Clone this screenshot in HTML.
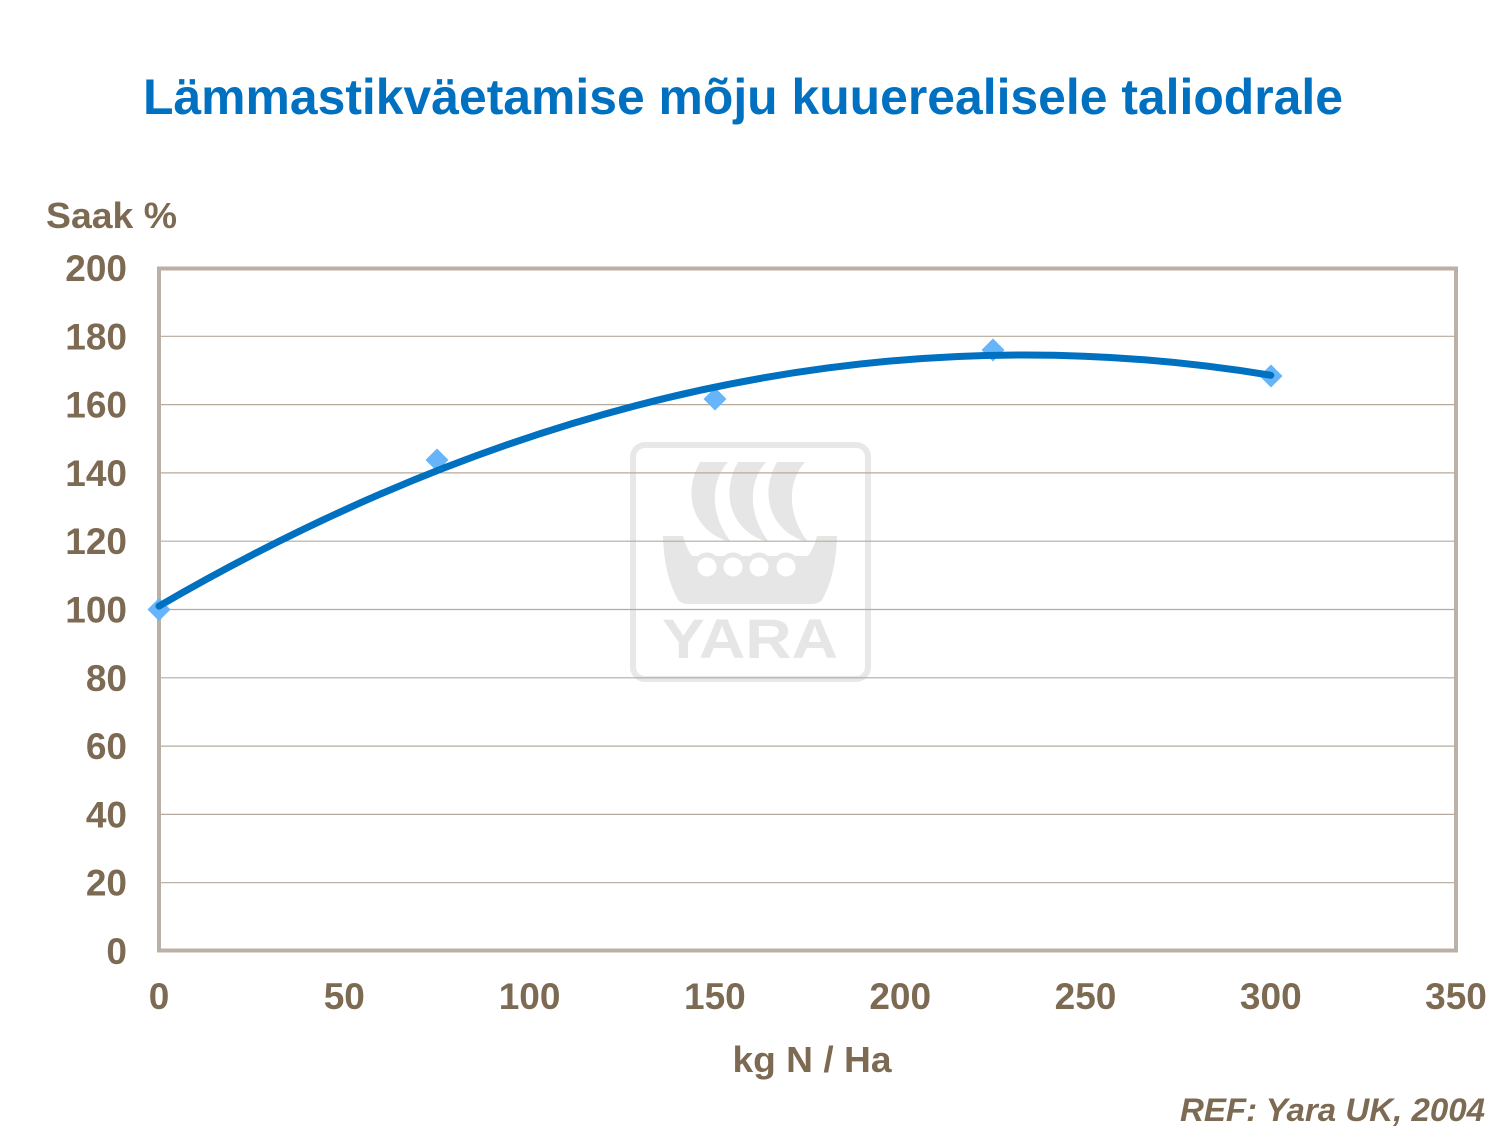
<!DOCTYPE html>
<html>
<head>
<meta charset="utf-8">
<style>
html,body{margin:0;padding:0;background:#fff;}
svg{display:block;}
text{font-family:"Liberation Sans",Arial,sans-serif;font-weight:bold;}
</style>
</head>
<body>
<svg width="1501" height="1126" viewBox="0 0 1501 1126" xmlns="http://www.w3.org/2000/svg">
<rect x="0" y="0" width="1501" height="1126" fill="#ffffff"/>

<!-- Title -->
<text x="743" y="114" font-size="50" fill="#0070c0" text-anchor="middle" textLength="1200" lengthAdjust="spacingAndGlyphs">Lämmastikväetamise mõju kuuerealisele taliodrale</text>

<!-- Y axis title -->
<text x="46" y="228" font-size="36" fill="#7d6a53" textLength="131" lengthAdjust="spacingAndGlyphs">Saak %</text>

<!-- Plot background -->
<rect x="159" y="268" width="1297" height="683" fill="#ffffff"/>

<!-- Watermark -->
<g fill="#e6e6e6">
  <rect x="633" y="445" width="235" height="234" rx="12" ry="12" fill="none" stroke="#e8e8e8" stroke-width="6"/>
  <path d="M700,462 L728,462 C710,482 710,515 731,542 C697,534 680,498 700,462 Z"/>
  <path d="M738,462 L766,462 C748,482 748,515 769,542 C735,534 718,498 738,462 Z"/>
  <path d="M777,462 L805,462 C787,482 787,515 808,542 C774,534 757,498 777,462 Z"/>
  <path d="M663,536 L683,536 Q686,548 692,556 L808,556 Q814,548 817,536 L837,536 Q836,575 822,600 Q818,604 812,604 L688,604 Q682,604 678,600 Q664,575 663,536 Z"/>
  <circle cx="707" cy="566" r="13.5"/>
  <circle cx="733" cy="566" r="13.5"/>
  <circle cx="759" cy="566" r="13.5"/>
  <circle cx="786" cy="566" r="13.5"/>
  <circle cx="707" cy="567" r="9.5" fill="#ffffff"/>
  <circle cx="733" cy="567" r="9.5" fill="#ffffff"/>
  <circle cx="759" cy="567" r="9.5" fill="#ffffff"/>
  <circle cx="786" cy="567" r="9.5" fill="#ffffff"/>
  <text x="662" y="658" font-size="56" fill="#e6e6e6" textLength="176" lengthAdjust="spacingAndGlyphs">YARA</text>
</g>

<!-- Gridlines -->
<g stroke="#b5aa9d" stroke-width="1.2">
  <line x1="159" y1="336.3" x2="1456" y2="336.3"/>
  <line x1="159" y1="404.6" x2="1456" y2="404.6"/>
  <line x1="159" y1="472.9" x2="1456" y2="472.9"/>
  <line x1="159" y1="541.2" x2="1456" y2="541.2"/>
  <line x1="159" y1="609.5" x2="1456" y2="609.5"/>
  <line x1="159" y1="677.8" x2="1456" y2="677.8"/>
  <line x1="159" y1="746.1" x2="1456" y2="746.1"/>
  <line x1="159" y1="814.4" x2="1456" y2="814.4"/>
  <line x1="159" y1="882.7" x2="1456" y2="882.7"/>
</g>

<!-- Frame -->
<rect x="159" y="268.5" width="1297" height="682" fill="none" stroke="#bbb0a4" stroke-width="4"/>

<!-- Y tick labels -->
<g font-size="37" fill="#7d6a53" text-anchor="end">
  <text x="127" y="281">200</text>
  <text x="127" y="349.3">180</text>
  <text x="127" y="417.6">160</text>
  <text x="127" y="485.9">140</text>
  <text x="127" y="554.2">120</text>
  <text x="127" y="622.5">100</text>
  <text x="127" y="690.8">80</text>
  <text x="127" y="759.1">60</text>
  <text x="127" y="827.4">40</text>
  <text x="127" y="895.7">20</text>
  <text x="127" y="964">0</text>
</g>

<!-- X tick labels -->
<g font-size="37" fill="#7d6a53" text-anchor="middle">
  <text x="159" y="1009">0</text>
  <text x="344.3" y="1009">50</text>
  <text x="529.6" y="1009">100</text>
  <text x="714.9" y="1009">150</text>
  <text x="900.2" y="1009">200</text>
  <text x="1085.5" y="1009">250</text>
  <text x="1270.8" y="1009">300</text>
  <text x="1456" y="1009">350</text>
</g>

<!-- X axis title -->
<text x="812" y="1072" font-size="36" fill="#7d6a53" text-anchor="middle" textLength="159" lengthAdjust="spacingAndGlyphs">kg N / Ha</text>

<!-- Markers -->
<g fill="#66b5fa">
  <path d="M159,598 L170.5,609.5 L159,621 L147.5,609.5 Z"/>
  <path d="M437,448.5 L448.5,460 L437,471.5 L425.5,460 Z"/>
  <path d="M715,387.5 L726.5,399 L715,410.5 L703.5,399 Z"/>
  <path d="M993,338.5 L1004.5,350 L993,361.5 L981.5,350 Z"/>
  <path d="M1271,364.5 L1282.5,376 L1271,387.5 L1259.5,376 Z"/>
</g>

<!-- Trend curve -->
<path d="M159,606.1 Q714.9,283.5 1270.8,375.3" fill="none" stroke="#0070c0" stroke-width="7" stroke-linecap="round"/>

<!-- Reference -->
<text x="1485" y="1121" font-size="32" fill="#7d6a53" font-style="italic" text-anchor="end" textLength="305" lengthAdjust="spacingAndGlyphs">REF: Yara UK, 2004</text>
</svg>
</body>
</html>
